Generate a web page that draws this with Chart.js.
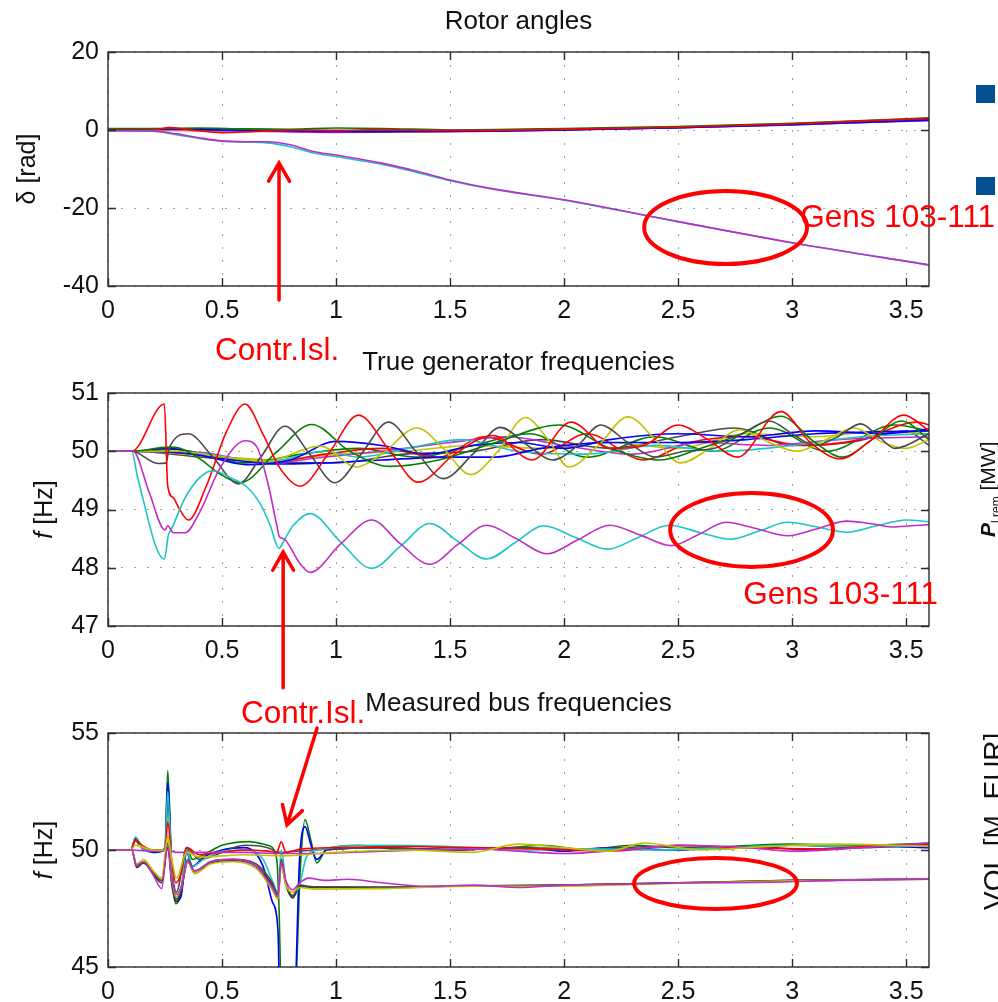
<!DOCTYPE html>
<html>
<head>
<meta charset="utf-8">
<script src="https://cdn.jsdelivr.net/npm/chart.js@4.4.1/dist/chart.umd.min.js"></script>
<style>
  html, body { margin: 0; padding: 0; background: #fff; }
  #page { position: relative; width: 998px; height: 1002px; overflow: hidden; }
  #page canvas { position: absolute; left: 0; }
</style>
</head>
<body>
<div id="page">
  <canvas id="rotor" width="998" height="330" style="top:0px"></canvas>
  <canvas id="genFreq" width="998" height="340" style="top:330px"></canvas>
  <canvas id="busFreq" width="998" height="332" style="top:670px"></canvas>
  <canvas id="notes" width="998" height="1002" style="top:0px"></canvas>
</div>
<script>
// ---- data: [time s, value] ----
const timeTicks = [0, 0.5, 1, 1.5, 2, 2.5, 3, 3.5];

// Rotor angles [rad]
const rotorRed = [[0,0],[0.2,0],[0.27,0.6],[0.35,0.1],[0.5,-0.7],[0.6,-0.5],[0.8,0],[1.0,-0.1],[1.2,0.1],[1.4,-0.1],[1.6,-0.1],[2.0,0.2],[2.5,0.7],[3.0,1.6],[3.6,3.0]];
const rotorGreen = [[0,0.4],[0.2,0.4],[0.4,0.5],[0.6,0.3],[0.8,0.2],[1.0,0.5],[1.2,0.4],[1.5,0],[1.7,0.1],[2.0,0.4],[2.5,0.9],[3.0,1.7],[3.6,3.1]];
const rotorBlue = [[0,0.2],[0.3,0.3],[0.5,0],[0.8,-0.2],[1.0,-0.4],[1.3,-0.3],[1.6,-0.3],[2.0,0],[2.5,0.6],[3.0,1.4],[3.6,2.5]];
const rotorGray = [[0,0.1],[0.3,0.2],[0.6,-0.2],[0.9,-0.3],[1.2,-0.5],[1.5,-0.4],[2.0,0.1],[2.5,0.7],[3.0,1.5],[3.6,2.8]];
const rotorYellow = [[0,0],[0.3,0.1],[0.6,-0.1],[1.0,-0.2],[1.4,-0.2],[2.0,0.2],[2.5,0.8],[3.0,1.6],[3.6,2.9]];
const rotorMagentaSmall = [[0,-0.2],[0.3,-0.1],[0.7,-0.4],[1.0,-0.6],[1.3,-0.5],[1.6,-0.4],[2.0,0],[2.5,0.6],[3.0,1.4],[3.6,2.4]];
const rotorCyanSmall = [[0,0],[0.3,0.1],[0.7,-0.2],[1.0,-0.2],[1.5,-0.1],[2.0,0.2],[2.5,0.7],[3.0,1.5],[3.6,2.7]];
const rotorBlue2 = [[0,0.3],[0.4,0.3],[0.8,0],[1.1,-0.3],[1.5,-0.2],[2.0,0.1],[2.5,0.6],[3.0,1.3],[3.6,2.6]];
const rotorIslandMagenta = [[0,-0.2],[0.2,-0.3],[0.3,-1.0],[0.4,-2.0],[0.5,-2.8],[0.6,-3.0],[0.7,-3.0],[0.8,-3.8],[0.9,-5.5],[1.0,-6.4],[1.2,-8.5],[1.35,-10.5],[1.5,-12.8],[1.67,-14.9],[2.0,-17.9],[2.5,-23.5],[3.0,-28.9],[3.6,-34.6]];
const rotorIslandCyan = [[0,-0.2],[0.2,-0.3],[0.3,-1.2],[0.4,-2.2],[0.5,-2.9],[0.6,-3.1],[0.7,-3.3],[0.8,-4.3],[0.9,-5.9],[1.0,-6.8],[1.2,-8.8],[1.35,-10.8],[1.5,-13.0],[1.67,-15.0],[2.0,-18.0],[2.5,-23.5],[3.0,-28.9],[3.6,-34.6]];

// True generator frequencies [Hz]
const genRed = [[0,50],[0.104,50],[0.247,50.81],[0.262,49.4],[0.287,49.2],[0.31,49.03],[0.352,48.82],[0.433,49.42],[0.52,50.34],[0.601,50.81],[0.681,50.28],[0.754,49.71],[0.842,49.4],[0.974,50.0],[1.098,50.62],[1.237,50.0],[1.36,49.47],[1.52,49.95],[1.69,50.27],[1.86,49.85],[2.03,50.5],[2.2,50.05],[2.35,50.1],[2.5,50.45],[2.63,50.2],[2.76,49.9],[2.95,50.68],[3.08,50.15],[3.21,49.87],[3.35,50.2],[3.49,50.62],[3.6,50.35]];
const genGray = [[0,50],[0.104,50],[0.22,49.79],[0.255,49.8],[0.268,50.05],[0.352,50.3],[0.46,49.9],[0.572,49.44],[0.67,49.9],[0.776,50.43],[0.885,49.95],[0.995,49.46],[1.11,49.95],[1.23,50.5],[1.35,50.0],[1.47,49.53],[1.6,49.95],[1.72,50.41],[1.84,50.1],[1.95,49.85],[2.06,50.1],[2.16,50.45],[2.28,50.15],[2.4,49.9],[2.53,50.0],[2.66,50.05],[2.78,50.3],[2.9,50.52],[3.0,50.3],[3.1,50.1],[3.2,50.25],[3.3,50.47],[3.38,50.25],[3.45,50.05],[3.6,50.3]];
const genGreen = [[0,50],[0.104,50],[0.265,50.07],[0.316,50.05],[0.403,49.87],[0.491,49.61],[0.579,49.46],[0.74,49.99],[0.893,50.46],[1.06,50.0],[1.237,49.74],[1.45,49.85],[1.7,50.15],[1.98,50.45],[2.2,50.05],[2.42,49.85],[2.6,50.05],[2.78,50.3],[2.95,50.6],[3.1,50.15],[3.22,49.9],[3.35,50.2],[3.48,50.52],[3.6,50.2]];
const genYellow = [[0,50],[0.104,50],[0.3,50.0],[0.5,49.9],[0.696,49.83],[0.93,50.09],[1.09,49.73],[1.2,49.95],[1.355,50.4],[1.47,50.05],[1.59,49.6],[1.71,50.0],[1.83,50.58],[1.93,50.2],[2.02,49.73],[2.15,50.1],[2.28,50.59],[2.4,50.2],[2.51,49.8],[2.64,50.05],[2.77,50.37],[2.9,50.15],[3.02,50.0],[3.15,50.2],[3.27,50.4],[3.4,50.15],[3.5,50.05],[3.6,50.2]];
const genBlue = [[0,50],[0.104,50],[0.27,50.05],[0.35,50.0],[0.62,49.77],[0.8,49.85],[1.0,50.17],[1.2,50.1],[1.4,49.95],[1.6,50.1],[1.8,50.15],[2.0,50.05],[2.2,50.2],[2.5,50.3],[2.8,50.25],[3.1,50.35],[3.4,50.3],[3.6,50.38]];
const genBlue2 = [[0,50],[0.104,50],[0.3,49.98],[0.55,49.85],[0.75,49.78],[0.95,49.8],[1.2,49.85],[1.5,49.9],[1.7,49.9],[1.9,50.05],[2.2,50.15],[2.5,50.15],[2.8,50.2],[3.1,50.3],[3.6,50.35]];
const genCyan = [[0,50],[0.104,50],[0.4,49.97],[0.7,49.82],[0.95,50.0],[1.1,49.9],[1.35,50.08],[1.55,50.2],[1.8,50.0],[2.1,49.95],[2.4,50.1],[2.7,50.0],[3.0,50.1],[3.3,50.25],[3.6,50.3]];
const genMagenta = [[0,50],[0.104,50],[0.4,49.98],[0.7,49.8],[0.95,49.9],[1.2,50.0],[1.5,50.15],[1.75,50.25],[2.0,50.1],[2.3,49.95],[2.6,50.15],[2.9,50.1],[3.2,50.2],[3.6,50.25]];
const genRed2 = [[0,50],[0.104,50],[0.4,49.95],[0.7,49.8],[0.95,49.95],[1.2,50.05],[1.45,49.9],[1.65,50.25],[1.9,49.95],[2.1,50.3],[2.35,49.85],[2.55,50.15],[2.8,50.25],[3.05,50.1],[3.3,50.2],[3.55,50.5],[3.6,50.45]];
const genGreen2 = [[0,50],[0.104,50],[0.3,50.03],[0.6,49.8],[0.85,49.95],[1.1,50.05],[1.35,49.9],[1.6,50.1],[1.85,50.3],[2.1,49.9],[2.4,50.25],[2.65,50.0],[2.9,50.4],[3.15,50.0],[3.45,50.45],[3.6,50.35]];
const genYellow2 = [[0,50],[0.104,50],[0.5,49.9],[0.75,49.85],[1.0,49.95],[1.3,50.0],[1.6,50.1],[1.9,50.05],[2.2,50.15],[2.5,50.05],[2.8,50.3],[3.1,50.25],[3.4,50.35],[3.6,50.3]];
const genGray2 = [[0,50],[0.104,50],[0.4,49.9],[0.7,49.82],[1.0,49.8],[1.3,49.95],[1.6,50.0],[1.9,50.2],[2.2,50.05],[2.5,50.25],[2.75,50.4],[3.0,50.1],[3.25,50.15],[3.5,50.35],[3.6,50.1]];
const genIslandMagenta = [[0,50],[0.11,50],[0.18,49.3],[0.25,48.65],[0.262,48.72],[0.287,48.6],[0.338,48.6],[0.403,48.96],[0.491,49.71],[0.601,50.18],[0.652,50.08],[0.703,49.42],[0.74,48.73],[0.752,48.53],[0.77,48.5],[0.842,48.07],[0.886,47.92],[1.018,48.4],[1.156,48.82],[1.28,48.42],[1.41,48.06],[1.535,48.4],[1.66,48.73],[1.79,48.5],[1.925,48.24],[2.06,48.48],[2.2,48.73],[2.335,48.56],[2.47,48.38],[2.59,48.57],[2.71,48.78],[2.845,48.67],[2.98,48.55],[3.11,48.67],[3.24,48.8],[3.34,48.76],[3.44,48.7],[3.52,48.72],[3.6,48.74]];
const genIslandCyan = [[0,50],[0.104,50],[0.13,49.55],[0.247,48.15],[0.265,48.56],[0.28,48.68],[0.345,49.25],[0.433,49.64],[0.462,49.66],[0.55,49.52],[0.608,49.39],[0.667,49.1],[0.711,48.73],[0.75,48.33],[0.769,48.45],[0.813,48.73],[0.886,48.93],[1.018,48.45],[1.156,47.99],[1.285,48.38],[1.41,48.76],[1.535,48.45],[1.66,48.15],[1.785,48.43],[1.91,48.72],[2.05,48.52],[2.19,48.32],[2.325,48.52],[2.46,48.73],[2.6,48.6],[2.73,48.49],[2.855,48.63],[2.98,48.78],[3.11,48.7],[3.24,48.61],[3.37,48.72],[3.5,48.82],[3.6,48.79]];

// Measured bus frequencies [Hz]
const busGreen = [[0,50],[0.1,50],[0.12,50.4],[0.14,50.2],[0.2,49.9],[0.25,50.1],[0.262,53.4],[0.28,49.0],[0.298,47.7],[0.32,48.2],[0.345,50.1],[0.37,49.6],[0.42,49.8],[0.5,50.2],[0.62,50.36],[0.7,50.2],[0.74,49.6],[0.75,47.5],[0.762,43],[0.815,43],[0.845,49.5],[0.864,51.3],[0.89,50.4],[0.915,49.45],[0.96,50.05],[1.1,50.2],[1.3,50.0],[1.5,50.1],[1.7,50.05],[1.9,50.2],[2.1,50.0],[2.3,50.2],[2.5,50.1],[2.7,50.15],[3.0,50.25],[3.3,50.2],[3.6,50.3]];
const busBlue = [[0,50],[0.1,50],[0.12,50.5],[0.15,50.1],[0.2,49.9],[0.25,50],[0.262,52.9],[0.28,49.2],[0.298,47.8],[0.32,48.0],[0.345,49.9],[0.37,49.3],[0.42,49.7],[0.5,50.0],[0.6,50.1],[0.68,49.3],[0.72,47.8],[0.745,46.6],[0.755,43],[0.815,43],[0.84,49.6],[0.864,51.0],[0.89,50.2],[0.915,49.6],[0.96,50.0],[1.2,50.1],[1.5,50.0],[1.8,50.1],[2.0,49.95],[2.2,50.1],[2.5,50.0],[2.8,50.15],[3.1,50.0],[3.4,50.15],[3.6,50.1]];
const busRed = [[0,50],[0.1,50],[0.12,50.45],[0.15,50.2],[0.2,50.0],[0.25,50.0],[0.262,51.2],[0.28,49.5],[0.298,48.6],[0.32,49.0],[0.345,50.1],[0.4,49.8],[0.5,49.9],[0.6,50.0],[0.7,49.95],[0.74,49.9],[0.76,50.35],[0.78,49.9],[0.85,50.05],[1.0,50.1],[1.3,50.15],[1.6,50.1],[1.9,50.05],[2.2,49.95],[2.5,50.2],[2.8,50.1],[3.1,50.05],[3.4,50.2],[3.6,50.25]];
const busMagenta = [[0,50],[0.1,50],[0.2,49.95],[0.26,50.0],[0.3,49.9],[0.4,49.9],[0.6,49.9],[0.76,49.85],[0.9,49.85],[1.2,49.95],[1.6,50.05],[2.0,49.85],[2.3,50.05],[2.5,50.2],[2.8,50.1],[3.0,49.95],[3.3,50.1],[3.6,50.3]];
const busCyan = [[0,50],[0.1,50],[0.12,50.55],[0.15,50.1],[0.2,49.95],[0.25,50.0],[0.262,52.5],[0.28,49.0],[0.298,47.9],[0.32,48.3],[0.345,50.0],[0.37,49.3],[0.42,49.6],[0.5,49.95],[0.6,50.0],[0.68,49.6],[0.72,48.7],[0.745,48.2],[0.76,50.0],[0.78,48.6],[0.81,48.0],[0.84,48.5],[0.87,49.7],[0.92,50.0],[1.2,50.2],[1.5,50.15],[1.8,50.0],[2.1,50.05],[2.4,50.0],[2.7,50.1],[3.0,50.2],[3.3,50.15],[3.6,50.2]];
const busYellow = [[0,50],[0.1,50],[0.12,50.2],[0.2,50.0],[0.25,50.0],[0.262,50.6],[0.28,49.6],[0.3,48.8],[0.345,49.9],[0.4,49.7],[0.6,49.8],[0.76,49.75],[1.0,49.9],[1.3,50.0],[1.6,49.9],[1.8,50.25],[2.0,50.1],[2.2,49.95],[2.35,50.3],[2.6,50.0],[2.9,50.15],[3.2,50.25],[3.6,50.15]];
const busGray = [[0,50],[0.1,50],[0.12,50.4],[0.16,50.0],[0.25,50.0],[0.262,52.0],[0.28,49.3],[0.3,48.2],[0.345,50.1],[0.4,49.6],[0.6,50.2],[0.7,50.1],[0.75,49.9],[0.9,50.0],[1.2,50.1],[1.5,50.0],[1.8,50.1],[2.1,50.05],[2.4,50.15],[2.7,50.05],[3.0,50.2],[3.3,50.1],[3.6,50.25]];
const busIslandGray = [[0,50],[0.104,50],[0.126,49.3],[0.155,49.5],[0.2,49.0],[0.235,48.7],[0.262,50.3],[0.28,48.6],[0.3,47.9],[0.32,48.3],[0.35,49.6],[0.38,49.1],[0.45,49.5],[0.55,49.6],[0.65,49.4],[0.72,48.6],[0.745,48.1],[0.76,49.6],[0.78,48.6],[0.81,48.05],[0.84,48.5],[0.9,48.43],[1.2,48.42],[1.5,48.45],[2.0,48.5],[2.5,48.6],[3.0,48.7],[3.6,48.77]];
const busIslandYellow = [[0,50],[0.104,50],[0.126,49.4],[0.155,49.6],[0.2,49.1],[0.235,48.8],[0.262,50.5],[0.28,48.8],[0.3,48.0],[0.32,48.4],[0.35,49.5],[0.38,49.0],[0.45,49.4],[0.55,49.5],[0.65,49.2],[0.72,48.3],[0.745,47.9],[0.76,49.3],[0.78,48.5],[0.81,48.2],[0.84,48.4],[0.9,48.33],[1.2,48.35],[1.6,48.45],[2.0,48.45],[2.5,48.58],[3.0,48.68],[3.6,48.75]];
const busIslandMagenta = [[0,50],[0.104,50],[0.126,49.35],[0.155,49.5],[0.2,48.9],[0.235,48.35],[0.262,50.2],[0.28,48.8],[0.3,48.1],[0.32,48.4],[0.35,49.5],[0.38,49.1],[0.45,49.5],[0.55,49.6],[0.65,49.3],[0.72,48.4],[0.745,48.0],[0.76,49.5],[0.78,48.7],[0.81,48.3],[0.84,48.6],[0.88,48.8],[0.95,48.7],[1.05,48.75],[1.2,48.6],[1.4,48.45],[1.6,48.5],[1.8,48.4],[2.0,48.5],[2.3,48.55],[2.6,48.6],[2.9,48.62],[3.2,48.7],[3.6,48.75]];
const busIslandDark = [[0,50],[0.104,50],[0.126,49.25],[0.155,49.45],[0.2,48.95],[0.235,48.6],[0.262,50.1],[0.28,48.5],[0.3,47.8],[0.32,48.2],[0.35,49.5],[0.38,49.0],[0.45,49.45],[0.55,49.55],[0.65,49.3],[0.72,48.5],[0.745,48.0],[0.76,49.4],[0.78,48.5],[0.81,47.95],[0.84,48.45],[0.9,48.4],[1.2,48.4],[1.6,48.47],[2.0,48.5],[2.5,48.6],[3.0,48.7],[3.6,48.76]];

const FONT = '"Liberation Sans", Arial, Helvetica, sans-serif';
const COL = { b: '#0000ff', g: '#008000', r: '#ff0000', c: '#1cc4c4', m: '#c02cc8', y: '#c2c200', k: '#4a4a4a' };

function line(pairs, color, width) {
  return {
    data: pairs.map(p => ({ x: p[0], y: p[1] })),
    borderColor: color,
    borderWidth: width || 1.6,
    pointRadius: 0,
    fill: false,
    cubicInterpolationMode: 'monotone'
  };
}

// MATLAB style box with inward ticks on all four sides
const boxPlugin = {
  id: 'matlabBox',
  afterDraw(chart) {
    const { ctx, chartArea: a, scales: { x, y } } = chart;
    ctx.save();
    ctx.strokeStyle = '#2b2b2b';
    ctx.lineWidth = 1.4;
    ctx.beginPath();
    x.ticks.forEach(t => {
      const p = Math.round(x.getPixelForValue(t.value)) + 0.5;
      ctx.moveTo(p, a.bottom); ctx.lineTo(p, a.bottom - 8);
      ctx.moveTo(p, a.top); ctx.lineTo(p, a.top + 8);
    });
    y.ticks.forEach(t => {
      const p = Math.round(y.getPixelForValue(t.value)) + 0.5;
      ctx.moveTo(a.left, p); ctx.lineTo(a.left + 8, p);
      ctx.moveTo(a.right, p); ctx.lineTo(a.right - 8, p);
    });
    ctx.stroke();
    ctx.strokeRect(a.left, a.top, a.right - a.left, a.bottom - a.top);
    ctx.restore();
  }
};

function makeChart(id, datasets, title, titlePad, yMin, yMax, yStep, xHeight) {
  return new Chart(document.getElementById(id), {
    type: 'line',
    data: { datasets: datasets },
    plugins: [boxPlugin],
    options: {
      responsive: false,
      animation: false,
      devicePixelRatio: 1,
      layout: { padding: { left: 0, right: 69, top: 0, bottom: 0 } },
      plugins: {
        legend: { display: false },
        tooltip: { enabled: false },
        title: {
          display: true, text: title, fullSize: false, color: '#111',
          font: { family: FONT, size: 26, weight: 'normal', lineHeight: 1.2 },
          padding: titlePad
        }
      },
      scales: {
        x: {
          type: 'linear', min: 0, max: 3.6,
          afterBuildTicks: s => { s.ticks = timeTicks.map(v => ({ value: v })); },
          afterFit: s => { s.height = xHeight; },
          ticks: { padding: 10, color: '#111', font: { family: FONT, size: 25 }, callback: v => String(v) },
          grid: { color: '#a0a0a0', drawTicks: false, lineWidth: 1 },
          border: { display: false, dash: [2, 11] }
        },
        y: {
          min: yMin, max: yMax,
          afterFit: s => { s.width = 108; },
          ticks: { stepSize: yStep, padding: 9, color: '#111', font: { family: FONT, size: 25 }, callback: v => String(v) },
          grid: { color: '#a0a0a0', drawTicks: false, lineWidth: 1 },
          border: { display: false, dash: [2, 11] }
        }
      }
    }
  });
}

const rotorChart = makeChart('rotor', [
  line(rotorIslandMagenta, COL.m), line(rotorIslandCyan, COL.c),
  line(rotorRed, COL.r), line(rotorGreen, COL.g), line(rotorBlue, COL.b), line(rotorGray, COL.k),
  line(rotorYellow, COL.y), line(rotorMagentaSmall, COL.m), line(rotorCyanSmall, COL.c), line(rotorBlue2, COL.b)
], 'Rotor angles', { top: 6.4, bottom: 14.4 }, -40, 20, 20, 44);

const genChart = makeChart('genFreq', [
  line(genIslandMagenta, COL.m), line(genIslandCyan, COL.c),
  line(genRed, COL.r), line(genGray, COL.k), line(genGreen, COL.g), line(genYellow, COL.y),
  line(genBlue, COL.b), line(genBlue2, COL.b), line(genCyan, COL.c), line(genMagenta, COL.m),
  line(genRed2, COL.r), line(genGreen2, COL.g), line(genYellow2, COL.y), line(genGray2, COL.k)
], 'True generator frequencies', { top: 17.4, bottom: 14.4 }, 47, 51, 1, 44);

const busChart = makeChart('busFreq', [
  line(busIslandMagenta, COL.m), line(busIslandYellow, COL.y), line(busIslandGray, COL.k), line(busIslandDark, '#333'),
  line(busYellow, COL.y), line(busMagenta, COL.m), line(busRed, COL.r), line(busCyan, COL.c),
  line(busGray, COL.k), line(busBlue, COL.b), line(busGreen, COL.g)
], 'Measured bus frequencies', { top: 18.4, bottom: 13.4 }, 45, 55, 5, 35);

// ---- annotations, placed in each chart's data coordinates ----
const charts = [rotorChart, genChart, busChart];
const chartTops = [0, 330, 670];
const noteEllipses = [
  { chart: 0, at: [2.708, -25], rt: 0.357, rv: 9.36 },
  { chart: 1, at: [2.822, 48.65], rt: 0.357, rv: 0.635 },
  { chart: 2, at: [2.664, 48.57], rt: 0.357, rv: 1.09 }
];
const noteArrows = [
  { chart: 0, from: [0.75, -43.6], to: [0.75, -8.46] },
  { chart: 1, from: [0.768, 45.94], to: [0.768, 48.27] },
  { chart: 2, from: [0.917, 55.21], to: [0.785, 51.07] }
];
const noteTexts = [
  { chart: 0, at: [0.469, -59], text: 'Contr.Isl.' },
  { chart: 0, at: [3.035, -24.9], text: 'Gens 103-111' },
  { chart: 1, at: [2.785, 47.38], text: 'Gens 103-111' },
  { chart: 2, at: [0.583, 55.43], text: 'Contr.Isl.' }
];

function toPx(i, t, v) {
  const c = charts[i];
  return [c.scales.x.getPixelForValue(t), chartTops[i] + c.scales.y.getPixelForValue(v)];
}

function verticalText(ctx, parts, x, yStart, centered) {
  // parts: [text, font, baseline shift]
  let total = 0;
  parts.forEach(p => { ctx.font = p[1]; total += ctx.measureText(p[0]).width; });
  ctx.save();
  ctx.translate(x, yStart);
  ctx.rotate(-Math.PI / 2);
  let pos = centered ? -total / 2 : 0;
  parts.forEach(p => {
    ctx.font = p[1];
    ctx.fillText(p[0], pos, p[2]);
    pos += ctx.measureText(p[0]).width;
  });
  ctx.restore();
}

function drawNotes() {
  const ctx = document.getElementById('notes').getContext('2d');

  // y axis labels
  ctx.fillStyle = '#111';
  ctx.textBaseline = 'middle';
  const mid = i => chartTops[i] + (charts[i].chartArea.top + charts[i].chartArea.bottom) / 2;
  verticalText(ctx, [['\u03b4 [rad]', '25px ' + FONT, 0]], 28, mid(0), true);
  verticalText(ctx, [['f', 'italic 25px ' + FONT, 0], [' [Hz]', '25px ' + FONT, 0]], 45, mid(1), true);
  verticalText(ctx, [['f', 'italic 25px ' + FONT, 0], [' [Hz]', '25px ' + FONT, 0]], 45, mid(2), true);

  // red marks
  ctx.strokeStyle = '#ff0000';
  ctx.fillStyle = '#ff0000';
  ctx.lineCap = 'round';
  noteEllipses.forEach(e => {
    const [cx, cy] = toPx(e.chart, e.at[0], e.at[1]);
    const [ex] = toPx(e.chart, e.at[0] + e.rt, e.at[1]);
    const [, ey] = toPx(e.chart, e.at[0], e.at[1] - e.rv);
    ctx.lineWidth = 4;
    ctx.beginPath();
    ctx.ellipse(cx, cy, ex - cx, ey - cy, 0, 0, Math.PI * 2);
    ctx.stroke();
  });
  noteArrows.forEach(a => {
    const [x0, y0] = toPx(a.chart, a.from[0], a.from[1]);
    const [x1, y1] = toPx(a.chart, a.to[0], a.to[1]);
    const ang = Math.atan2(y1 - y0, x1 - x0);
    const head = 21;
    ctx.lineWidth = 3.5;
    ctx.beginPath();
    ctx.moveTo(x0, y0); ctx.lineTo(x1, y1);
    ctx.moveTo(x1 - head * Math.cos(ang - 0.52), y1 - head * Math.sin(ang - 0.52));
    ctx.lineTo(x1, y1);
    ctx.lineTo(x1 - head * Math.cos(ang + 0.52), y1 - head * Math.sin(ang + 0.52));
    ctx.stroke();
  });
  ctx.font = '31.5px ' + FONT;
  ctx.textBaseline = 'alphabetic';
  noteTexts.forEach(n => {
    const [x, y] = toPx(n.chart, n.at[0], n.at[1]);
    ctx.fillText(n.text, x, y);
  });

  // cropped neighbouring figure at the right edge
  ctx.fillStyle = '#034f8f';
  ctx.fillRect(976, 85, 19, 18);
  ctx.fillRect(976, 177, 19, 18);
  ctx.fillStyle = '#111';
  verticalText(ctx, [['P', 'italic bold 21px ' + FONT, 0], ['l rem', '12px ' + FONT, 5], [' [MW]', '21px ' + FONT, 0]], 995, 537, false);
  verticalText(ctx, [['VOL [M. EUR]', '28px ' + FONT, 0]], 1003, 910, false);
}

drawNotes();
</script>
</body>
</html>
